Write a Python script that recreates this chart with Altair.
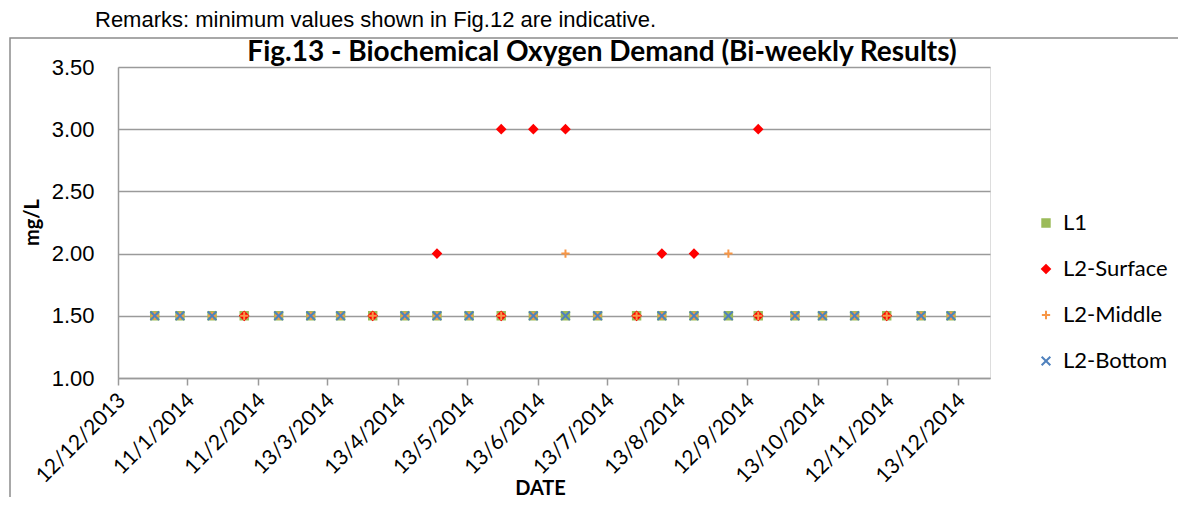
import altair as alt
import pandas as pd

# ---- data ----
dates = ["2013-12-28", "2014-01-08", "2014-01-22", "2014-02-05", "2014-02-20", "2014-03-06",
         "2014-03-19", "2014-04-02", "2014-04-16", "2014-04-30", "2014-05-14", "2014-05-28",
         "2014-06-11", "2014-06-25", "2014-07-09", "2014-07-26", "2014-08-06", "2014-08-20",
         "2014-09-04", "2014-09-17", "2014-10-03", "2014-10-15", "2014-10-29", "2014-11-12",
         "2014-11-27", "2014-12-10"]
l1 = [1.5, 1.5, 1.5, 1.5, 1.5, 1.5, 1.5, 1.5, 1.5, 1.5, 1.5, 1.5, 1.5,
      1.5, 1.5, 1.5, 1.5, 1.5, 1.5, 1.5, 1.5, 1.5, 1.5, 1.5, 1.5, 1.5]
l2_middle = [1.5, 1.5, 1.5, 1.5, 1.5, 1.5, 1.5, 1.5, 1.5, 1.5, 1.5, 1.5, 1.5,
             2.0, 1.5, 1.5, 1.5, 1.5, 2.0, 1.5, 1.5, 1.5, 1.5, 1.5, 1.5, 1.5]
l2_bottom = [1.5, 1.5, 1.5, None, 1.5, 1.5, 1.5, None, 1.5, 1.5, 1.5, None, 1.5,
             1.5, 1.5, None, 1.5, 1.5, 1.5, None, 1.5, 1.5, 1.5, None, 1.5, 1.5]
surface_dates = ["2014-02-05", "2014-04-02", "2014-04-30", "2014-05-28", "2014-05-28",
                 "2014-06-11", "2014-06-25", "2014-07-26", "2014-08-06", "2014-08-20",
                 "2014-09-17", "2014-09-17", "2014-11-12"]
surface_values = [1.5, 1.5, 2.0, 1.5, 3.0, 3.0, 3.0, 1.5, 2.0, 2.0, 1.5, 3.0, 1.5]

series_names = ["L1", "L2-Surface", "L2-Middle", "L2-Bottom"]
tick_dates = [(2013, 12, 12), (2014, 1, 11), (2014, 2, 11), (2014, 3, 13), (2014, 4, 13),
              (2014, 5, 13), (2014, 6, 13), (2014, 7, 13), (2014, 8, 13), (2014, 9, 12),
              (2014, 10, 13), (2014, 11, 12), (2014, 12, 13)]
y_ticks = [1.0, 1.5, 2.0, 2.5, 3.0, 3.5]

title_text = "Fig.13 - Biochemical Oxygen Demand (Bi-weekly Results)"
remark_text = "Remarks: minimum values shown in Fig.12 are indicative."

# ---- build long table ----
rows = []
for d, v in zip(dates, l1):
    if v is not None:
        rows.append({"date": d, "value": v, "series": "L1", "ord": 0})
for d, v in zip(surface_dates, surface_values):
    rows.append({"date": d, "value": v, "series": "L2-Surface", "ord": 1})
for d, v in zip(dates, l2_middle):
    if v is not None:
        rows.append({"date": d, "value": v, "series": "L2-Middle", "ord": 2})
for d, v in zip(dates, l2_bottom):
    if v is not None:
        rows.append({"date": d, "value": v, "series": "L2-Bottom", "ord": 3})
df = pd.DataFrame(rows)

W, H = 872, 311
GRID = "#9a9a9a"

plus_path = "M-1,0L1,0M0,-1L0,1"
x_path = "M-1,-1L1,1M-1,1L1,-1"

leg = alt.Legend(title=None, orient="none", legendX=917, legendY=145,
                 labelFont="Lato", labelFontSize=22, labelColor="#000000",
                 rowPadding=24, symbolStrokeWidth=2, labelOffset=6)

points = alt.Chart(df).mark_point(strokeWidth=2, opacity=1).encode(
    x=alt.X("date:T",
            scale=alt.Scale(type="utc",
                            domain=[alt.DateTime(year=2013, month=12, date=12, utc=True),
                                    alt.DateTime(year=2014, month=12, date=27, utc=True)]),
            axis=alt.Axis(values=[alt.DateTime(year=y, month=m, date=d, utc=True)
                                  for (y, m, d) in tick_dates],
                          format="%-d/%-m/%Y", labelAngle=-45, labelAlign="right",
                          labelBaseline="middle", labelFont="Lato", labelFontSize=21,
                          labelColor="#000000", labelPadding=12, labelOffset=4,
                          tickSize=7, tickColor=GRID, tickWidth=1.5,
                          domainColor=GRID, domainWidth=1.5, grid=False,
                          title="DATE", titleFont="Lato", titleFontSize=20,
                          titleFontWeight="bold", titleColor="#000000",
                          titleX=422, titleY=110, titleAlign="center",
                          titleBaseline="middle", labelOverlap=False)),
    y=alt.Y("value:Q",
            scale=alt.Scale(domain=[1.0, 3.5], nice=False, zero=False),
            axis=alt.Axis(values=y_ticks, format=".2f", labelFont="Liberation Sans",
                          labelFontSize=22, labelColor="#000000", ticks=False,
                          labelPadding=24, domainColor=GRID, domainWidth=1.5,
                          gridColor=GRID, gridWidth=1.5,
                          title="mg/L", titleFont="Lato", titleFontSize=20,
                          titleFontWeight="bold", titleColor="#000000",
                          titleX=-86, titleY=155, titleAlign="center",
                          titleBaseline="middle")),
    shape=alt.Shape("series:N", scale=alt.Scale(domain=series_names,
                    range=["square", "diamond", plus_path, x_path]), legend=leg),
    fill=alt.Fill("series:N", scale=alt.Scale(domain=series_names,
                  range=["#9BBB59", "#FF0000", "transparent", "transparent"]), legend=leg),
    stroke=alt.Stroke("series:N", scale=alt.Scale(domain=series_names,
                      range=["#9BBB59", "#FF0000", "#F79646", "#4F81BD"]), legend=leg),
    size=alt.Size("series:N", scale=alt.Scale(domain=series_names,
                  range=[55, 75, 150, 170]), legend=leg),
    order=alt.Order("ord:Q"),
)

frame = alt.Chart(pd.DataFrame({"k": [0]})).mark_rect(
    fill="transparent", stroke="#8c8c8c", strokeWidth=1.5).encode(
    x=alt.value(-108), x2=alt.value(1200), y=alt.value(-29), y2=alt.value(700))

title = alt.Chart(pd.DataFrame({"t": [title_text]})).mark_text(
    font="Lato", fontSize=28, fontWeight="bold", color="#000000",
    align="center", baseline="middle").encode(
    text="t:N", x=alt.value(484), y=alt.value(-14))

remark = alt.Chart(pd.DataFrame({"t": [remark_text]})).mark_text(
    font="Liberation Sans", fontSize=22, color="#000000",
    align="left", baseline="alphabetic").encode(
    text="t:N", x=alt.value(-23), y=alt.value(-40))

chart = alt.layer(frame, points, title, remark).properties(
    width=W, height=H,
    autosize=alt.AutoSizeParams(type="none"),
    padding={"left": 110, "top": 59, "right": 188, "bottom": 119},
).configure_view(stroke=None).configure(background="#ffffff")

chart.save("out.html", embed_options={"renderer": "svg", "actions": False})
